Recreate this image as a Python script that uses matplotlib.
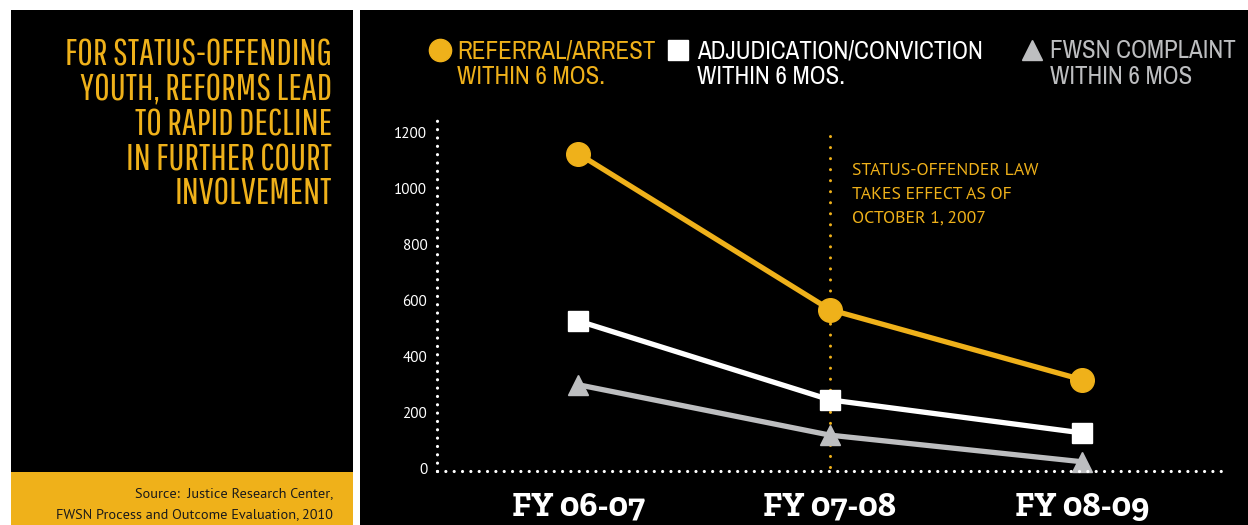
import matplotlib.pyplot as plt
from matplotlib.patches import Rectangle

# data
years = ['FY 06-07', 'FY 07-08', 'FY 08-09']
referral = [1125, 568, 318]
adjudication = [528, 246, 128]
fwsn = [300, 120, 25]
y_ticks = [0, 200, 400, 600, 800, 1000, 1200]

title_lines = ['FOR STATUS-OFFENDING', 'YOUTH, REFORMS LEAD', 'TO RAPID DECLINE',
               'IN FURTHER COURT', 'INVOLVEMENT']
source_lines = ['Source:  Justice Research Center,',
                'FWSN Process and Outcome Evaluation, 2010']
note_lines = ['STATUS-OFFENDER LAW', 'TAKES EFFECT AS OF', 'OCTOBER 1, 2007']

YELLOW = '#EFB11A'
GREY = '#BDBEC0'
GOTHIC = ['Pathway Gothic One', 'DejaVu Sans']
NARROW = ['Archivo Narrow', 'PT Sans Narrow', 'DejaVu Sans']
MYRIAD = ['PT Sans', 'DejaVu Sans']
SLAB = ['Zilla Slab', 'DejaVu Serif']

W, H = 1248, 525


def fx(x):
    return x / W


def fy(y):
    return 1 - y / H


fig = plt.figure(figsize=(W / 100, H / 100), dpi=100, facecolor='white')
renderer = fig.canvas.get_renderer()


def fit(texts, ref, width):
    # scale font size so that `ref` is `width` pixels wide, same size for all
    w = ref.get_window_extent(renderer).width
    size = ref.get_fontsize() * width / w
    for t in texts:
        t.set_fontsize(size)


# background panels (pixel coords, top-left origin)
fig.add_artist(Rectangle((fx(11), fy(525)), (353 - 11) / W, (525 - 10) / H,
                         transform=fig.transFigure, facecolor='black', edgecolor='none', zorder=0))
fig.add_artist(Rectangle((fx(360), fy(525)), (W - 360) / W, (525 - 10) / H,
                         transform=fig.transFigure, facecolor='black', edgecolor='none', zorder=0))
fig.add_artist(Rectangle((fx(11), fy(525)), (353 - 11) / W, (525 - 472) / H,
                         transform=fig.transFigure, facecolor=YELLOW, edgecolor='none', zorder=1))

# title
title_txt = [fig.text(fx(332), fy(66 + i * 34.7), line, ha='right', va='baseline',
                      color=YELLOW, fontsize=20, family=GOTHIC)
             for i, line in enumerate(title_lines)]
fit(title_txt, title_txt[0], 267)

# source
src_txt = [fig.text(fx(333), fy(497 + i * 21), line, ha='right', va='baseline',
                    color='#1a1a1a', fontsize=12, family=MYRIAD)
           for i, line in enumerate(source_lines)]
fit(src_txt, src_txt[1], 276)

# chart
ax = fig.add_axes([fx(437), fy(471), (1223 - 437) / W, (471 - 120) / H])
ax.set_facecolor('none')
x = list(range(len(years)))

ax.axvline(1, ymin=0.01, ymax=0.98, color=YELLOW, lw=2.2, linestyle=(0, (0.01, 3.6)),
           dash_capstyle='round', zorder=1)

ax.plot(x, fwsn, color=GREY, lw=3.8, marker='^', markersize=15, zorder=2, clip_on=False)
ax.plot(x, adjudication, color='white', lw=3.8, marker='s', markersize=14, zorder=3, clip_on=False)
ax.plot(x, referral, color=YELLOW, lw=3.8, marker='o', markersize=17, zorder=4, clip_on=False)

ax.set_xlim(-0.56, 2.56)
ax.set_ylim(-8, 1245)

ax.set_yticks(y_ticks)
ax.set_yticklabels([str(v) for v in y_ticks], color='white', fontsize=13, family=MYRIAD)
ax.set_xticks(x)
ax.set_xticklabels(years, color='white', fontsize=23, fontweight='bold', family=SLAB)
ax.tick_params(axis='y', length=0, pad=7)
ax.tick_params(axis='x', length=0, pad=15)

fig.canvas.draw()
ylabels = ax.get_yticklabels()
fit(ylabels, ylabels[-1], 33)
xlabels = ax.get_xticklabels()
fit(xlabels, xlabels[0], 133)

for side in ['top', 'right']:
    ax.spines[side].set_visible(False)
for side in ['left', 'bottom']:
    sp = ax.spines[side]
    sp.set_color('white')
    sp.set_linewidth(2.3)
    sp.set_linestyle((0, (0.01, 2.6)))
    sp.set_capstyle('round')

# annotation next to the law line
note_txt = [fig.text(fx(852), fy(175 + i * 24), line, ha='left', va='baseline',
                     color=YELLOW, fontsize=13, family=MYRIAD)
            for i, line in enumerate(note_lines)]
fit(note_txt, note_txt[0], 186)

# legend drawn by hand
legend_items = [
    ('o', YELLOW, 16, 440, 457, ['REFERRAL/ARREST', 'WITHIN 6 MOS.'], YELLOW),
    ('s', 'white', 14, 678, 697, ['ADJUDICATION/CONVICTION', 'WITHIN 6 MOS.'], 'white'),
    ('^', GREY, 15, 1032, 1050, ['FWSN COMPLAINT', 'WITHIN 6 MOS'], GREY),
]
leg_txt = []
for marker, mcolor, msize, mx, tx, lines, tcolor in legend_items:
    fig.add_artist(plt.Line2D([fx(mx)], [fy(50)], marker=marker, color=mcolor,
                              markersize=msize, linestyle='none', transform=fig.transFigure))
    for i, line in enumerate(lines):
        leg_txt.append(fig.text(fx(tx), fy(58 + i * 26), line, ha='left', va='baseline',
                                color=tcolor, fontsize=16, family=NARROW))
fit(leg_txt, leg_txt[2], 285)

fig.savefig('out.png', dpi=100, facecolor='white')
